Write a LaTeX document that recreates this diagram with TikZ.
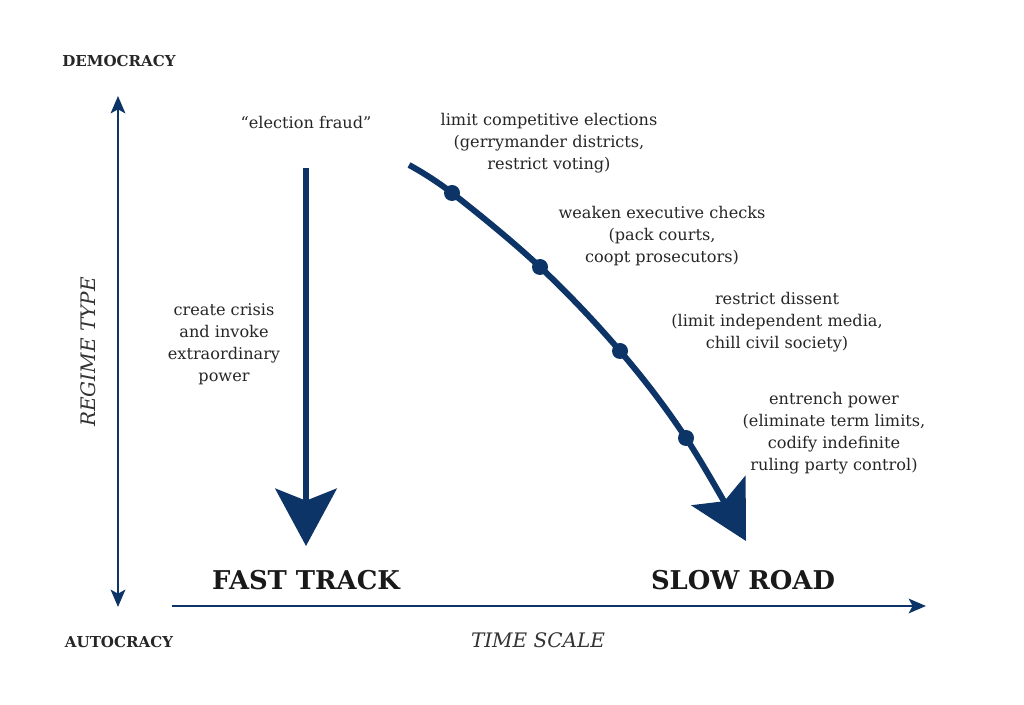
\documentclass[tikz,border=0pt]{standalone}
\usepackage{fontspec}
\setmainfont{DejaVu Serif}
\usetikzlibrary{arrows.meta}
\definecolor{navy}{RGB}{12,52,102}
\begin{document}
\begin{tikzpicture}[x=0.75pt,y=-0.75pt,
  lbl/.style={align=center,font=\fontsize{12.1}{16.5}\selectfont,text=black!85,inner sep=0pt},
  pole/.style={font=\bfseries\fontsize{11.3}{13}\selectfont,text=black!85,inner sep=0pt},
  track/.style={font=\bfseries\fontsize{19.4}{21}\selectfont,text=black!90,inner sep=0pt},
  axislbl/.style={font=\itshape\fontsize{15}{17}\selectfont,text=black!80,inner sep=0pt},
  axis/.style={draw=navy,line width=1.6pt},
  bigarrow/.style={draw=navy,line width=4.5pt,-{Stealth[length=43pt,width=46pt,inset=9pt,fill=navy]}},
  dot/.style={circle,fill=navy,inner sep=0pt,minimum size=12pt}]
\useasboundingbox (0,0) rectangle (1024,705);
% axes
\node[pole] (dem) at (119,61) {DEMOCRACY};
\node[pole] (aut) at (119,642) {AUTOCRACY};
\coordinate (vtop) at (118,96);
\coordinate (vbot) at (118,607);
\draw[axis,{Stealth[length=13pt,width=11pt,inset=3pt]}-{Stealth[length=13pt,width=11pt,inset=3pt]}] (vtop) -- (vbot);
\node[axislbl,rotate=90] (rt) at (88,352) {REGIME TYPE};
\coordinate (hl) at (172,606);
\coordinate (hr) at (926,606);
\draw[axis,-{Stealth[length=13pt,width=11pt,inset=3pt]}] (hl) -- (hr);
\node[axislbl] (ts) at (538,640) {TIME SCALE};
% fast track
\node[lbl] (fraud) at (306,122) {``election fraud''};
\coordinate (fs) at (306,168);
\coordinate (fe) at (306,546);
\draw[bigarrow] (fs) -- (fe);
\node[lbl] (crisis) at (224,344) {create crisis\\and invoke\\extraordinary\\power};
\node[track] (fast) at (306,580) {FAST TRACK};
% slow road
\coordinate (ss) at (409,165);
\node[dot] (d1) at (452,193) {};
\node[dot] (d2) at (540,267) {};
\node[dot] (d3) at (620,351) {};
\node[dot] (d4) at (686,438) {};
\coordinate (se) at (746,541);
\draw[bigarrow] plot[smooth,tension=0.6] coordinates {(ss) (d1.center) (d2.center) (d3.center) (d4.center) (se)};
\node[lbl] (l1) at (549,143) {limit competitive elections\\(gerrymander districts,\\restrict voting)};
\node[lbl] (l2) at (662,236) {weaken executive checks\\(pack courts,\\coopt prosecutors)};
\node[lbl] (l3) at (777,322) {restrict dissent\\(limit independent media,\\chill civil society)};
\node[lbl] (l4) at (834,433) {entrench power\\(eliminate term limits,\\codify indefinite\\ruling party control)};
\node[track] (slow) at (743,580) {SLOW ROAD};
\end{tikzpicture}
\end{document}
